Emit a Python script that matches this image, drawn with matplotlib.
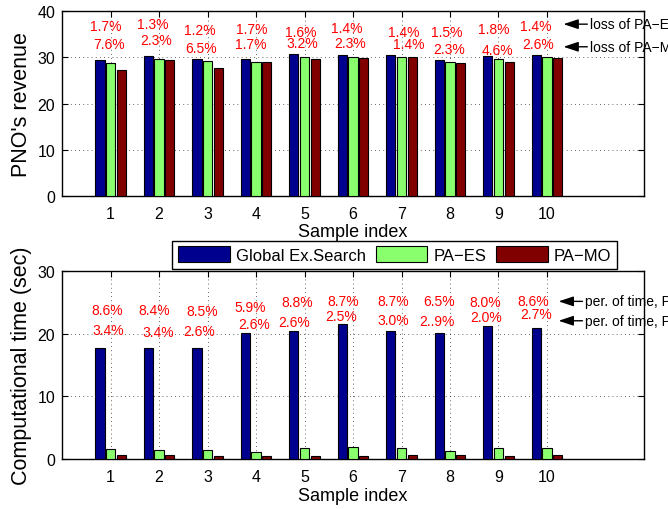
import matplotlib
matplotlib.use('Agg')
import matplotlib.pyplot as plt
import numpy as np

plt.rcParams['font.family'] = ['Liberation Sans', 'DejaVu Sans']

# ---------------- data ----------------
samples = list(range(1, 11))
rev_global = [29.35, 30.2, 29.55, 29.55, 30.65, 30.5, 30.45, 29.35, 30.2, 30.5]
rev_paes = [28.85, 29.7, 29.2, 29.05, 30.15, 30.15, 30.0, 28.9, 29.7, 30.15]
rev_pamo = [27.2, 29.4, 27.6, 29.05, 29.65, 29.8, 30.0, 28.7, 28.9, 29.8]

time_global = [17.8, 17.7, 17.8, 20.15, 20.4, 21.55, 20.4, 20.15, 21.2, 20.9]
time_paes = [1.55, 1.5, 1.5, 1.2, 1.75, 1.85, 1.75, 1.3, 1.7, 1.75]
time_pamo = [0.65, 0.6, 0.45, 0.5, 0.55, 0.5, 0.6, 0.6, 0.45, 0.6]

loss_paes = ['1.7%', '1.3%', '1.2%', '1.7%', '1.6%', '1.4%', '1.4%', '1.5%', '1.8%', '1.4%']
loss_pamo = ['7.6%', '2.3%', '6.5%', '1.7%', '3.2%', '2.3%', '1.4%', '2.3%', '4.6%', '2.6%']
tpct_paes = ['8.6%', '8.4%', '8.5%', '5.9%', '8.8%', '8.7%', '8.7%', '6.5%', '8.0%', '8.6%']
tpct_pamo = ['3.4%', '3.4%', '2.6%', '2.6%', '2.6%', '2.5%', '3.0%', '2..9%', '2.0%', '2.7%']

series_names = ['Global Ex.Search', 'PA\u2212ES', 'PA\u2212MO']

# ---------------- label placement (layout only) ----------------
top_r1_dx = [-0.10, -0.13, -0.16, -0.09, -0.08, -0.14, 0.05, -0.06, -0.10, -0.23]
top_r1_y = [36.8, 37.2, 35.9, 36.1, 35.6, 36.4, 35.6, 35.6, 36.1, 36.8]
top_r2_dx = [-0.035, -0.07, -0.14, -0.10, -0.05, -0.07, 0.15, -0.01, -0.02, -0.185]
top_r2_y = [32.8, 33.7, 32.1, 32.8, 33.2, 33.2, 33.0, 31.9, 31.7, 32.8]
bot_r1_dx = [-0.08, -0.11, -0.12, -0.115, -0.15, -0.20, -0.18, -0.23, -0.27, -0.28]
bot_r1_y = [23.8, 23.8, 23.7, 24.3, 25.1, 25.3, 25.3, 25.3, 25.1, 25.3]
bot_r2_dx = [-0.05, -0.025, -0.17, -0.05, -0.21, -0.24, -0.18, -0.27, -0.25, -0.22]
bot_r2_y = [20.7, 20.3, 20.4, 21.6, 21.9, 22.8, 22.2, 22.1, 22.7, 23.2]

colors = ['#00008F', '#8AFF6E', '#800000']
offset = 0.22
width = 0.19

fig = plt.figure(figsize=(6.68, 5.10), dpi=100)
ax1 = fig.add_axes([0.093, 0.614, 0.871, 0.362])
ax2 = fig.add_axes([0.093, 0.098, 0.871, 0.368])

x = np.array(samples, dtype=float)


def style_axes(ax, ylim, yticks):
    ax.set_xlim(0, 12)
    ax.set_ylim(*ylim)
    ax.set_xticks(samples)
    ax.set_yticks(yticks)
    ax.tick_params(direction='in', top=True, right=True, length=4,
                   labelsize=11.5, pad=5, width=0.8)
    ax.tick_params(axis='x', pad=7)
    ax.grid(True, linestyle=(0, (1, 4)), color='black', linewidth=0.6, alpha=0.8)
    ax.set_axisbelow(True)
    for s in ax.spines.values():
        s.set_linewidth(1.0)
    ax.set_xlabel('Sample index', fontsize=13, labelpad=2)


# top chart
for vals, col, dx, name in zip([rev_global, rev_paes, rev_pamo], colors,
                               [-offset, 0, offset], series_names):
    ax1.bar(x + dx, vals, width=width, color=col, edgecolor='black',
            linewidth=0.8, label=name, zorder=3)
style_axes(ax1, (0, 40), [0, 10, 20, 30, 40])
ax1.set_ylabel("PNO's revenue", fontsize=15.5, labelpad=4)

for i in range(len(samples)):
    ax1.text(x[i] + top_r1_dx[i], top_r1_y[i], loss_paes[i], color='red',
             fontsize=10, ha='center', va='center', zorder=4)
    ax1.text(x[i] + top_r2_dx[i], top_r2_y[i], loss_pamo[i], color='red',
             fontsize=10, ha='center', va='center', zorder=4)

arrow_kw = dict(arrowstyle='-|>,head_length=0.9,head_width=0.3',
                color='black', lw=1.0, shrinkA=0, shrinkB=0)
ax1.annotate('loss of PA\u2212ES', xy=(10.34, 37.2), xytext=(10.89, 37.2),
             fontsize=10, va='center', ha='left', arrowprops=arrow_kw,
             annotation_clip=False)
ax1.annotate('loss of PA\u2212MO', xy=(10.34, 32.3), xytext=(10.89, 32.3),
             fontsize=10, va='center', ha='left', arrowprops=arrow_kw,
             annotation_clip=False)

# bottom chart
handles = []
for vals, col, dx, name in zip([time_global, time_paes, time_pamo], colors,
                               [-offset, 0, offset], series_names):
    h = ax2.bar(x + dx, vals, width=width, color=col, edgecolor='black',
                linewidth=0.8, label=name, zorder=3)
    handles.append(h)
style_axes(ax2, (0, 30), [0, 10, 20, 30])
ax2.set_ylabel('Computational time (sec)', fontsize=15.5, labelpad=4)

for i in range(len(samples)):
    ax2.text(x[i] + bot_r1_dx[i], bot_r1_y[i], tpct_paes[i], color='red',
             fontsize=10, ha='center', va='center', zorder=4)
    ax2.text(x[i] + bot_r2_dx[i], bot_r2_y[i], tpct_pamo[i], color='red',
             fontsize=10, ha='center', va='center', zorder=4)

ax2.annotate('per. of time, PA\u2212ES', xy=(10.24, 25.2), xytext=(10.79, 25.2),
             fontsize=10, va='center', ha='left', arrowprops=arrow_kw,
             annotation_clip=False)
ax2.annotate('per. of time, PA\u2212MO', xy=(10.24, 22.1), xytext=(10.79, 22.1),
             fontsize=10, va='center', ha='left', arrowprops=arrow_kw,
             annotation_clip=False)

leg = fig.legend(handles=handles, labels=series_names, ncol=3,
                 loc='lower right', bbox_to_anchor=(0.936, 0.455),
                 fontsize=12, handlelength=3.1, handleheight=1.05,
                 handletextpad=0.35, columnspacing=0.6, borderpad=0.35,
                 fancybox=False, framealpha=1.0, edgecolor='black')
leg.get_frame().set_linewidth(1.0)

fig.savefig('out.png', dpi=100)
